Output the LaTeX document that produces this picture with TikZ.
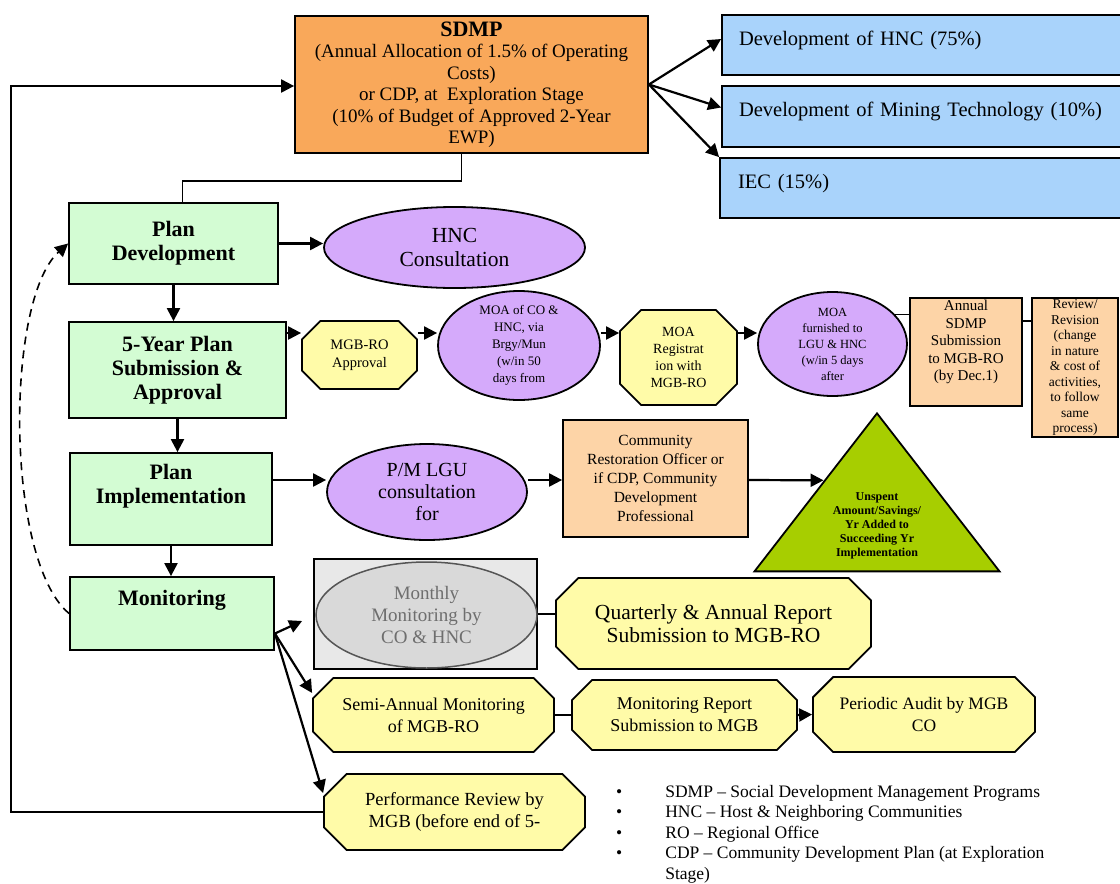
\documentclass[tikz,border=0pt]{standalone}
\usepackage{fontspec}
\setmainfont{Liberation Serif}
\usetikzlibrary{arrows.meta, calc, shapes.geometric, shapes.misc}
\definecolor{sdmporange}{HTML}{F9A85A}
\definecolor{sharesblue}{HTML}{A9D3FB}
\definecolor{plangreen}{HTML}{D3FCD3}
\definecolor{lilac}{HTML}{D5AAFB}
\definecolor{octyellow}{HTML}{FFFBA8}
\definecolor{peach}{HTML}{FDD4A7}
\definecolor{leafgreen}{HTML}{A7CE00}
\definecolor{panelgray}{HTML}{E8E8E8}
\definecolor{ovalgray}{HTML}{D9D9D9}
\definecolor{ovaledge}{HTML}{555555}
\definecolor{ovaltext}{HTML}{6E6E6E}

\begin{document}
\begin{tikzpicture}[x=1pt, y=-1pt,
    >={Triangle[length=13pt, width=13pt]},
    font=\fontsize{18}{22}\selectfont,
    conn/.style={line width=2.2pt},
    box/.style={draw, line width=1.8pt, rectangle, inner sep=0pt, align=center},
    sdmpbox/.style={box, fill=sdmporange, font=\fontsize{19}{21.5}\selectfont},
    sharebox/.style={box, fill=sharesblue, text width=374pt, align=left, text depth=14pt, font=\fontsize{20.5}{23}\selectfont},
    stagebox/.style={box, fill=plangreen, font=\fontsize{22}{24}\selectfont\bfseries},
    officebox/.style={box, fill=peach},
    oval/.style={draw, line width=1.8pt, ellipse, fill=lilac, inner sep=0pt, align=center},
    octa/.style={draw, line width=1.8pt, chamfered rectangle, chamfered rectangle xsep=#1, fill=octyellow, inner sep=0pt, align=center},
    octa/.default=20pt
]
\useasboundingbox (0,0) rectangle (1120,884);

% SDMP and the three shares
\node[sdmpbox, minimum width=353pt, minimum height=137pt] (sdmp) at (471.5,84.5) {{\fontsize{22}{26}\selectfont\bfseries SDMP}\\(Annual Allocation of 1.5\% of Operating\\Costs)\\or CDP, at\ \ Exploration Stage\\(10\% of Budget of Approved 2-Year\\EWP)};
\node[sharebox, minimum width=408pt, minimum height=60pt] (hncshare) at (926,45) {Development of HNC (75\%)};
\node[sharebox, minimum width=408pt, minimum height=61pt] (techshare) at (926,116.5) {Development of Mining Technology (10\%)};
\node[sharebox, minimum width=410pt, minimum height=60pt] (iecshare) at (925,188) {IEC (15\%)};

% stages down the left side
\node[stagebox, minimum width=209pt, minimum height=81pt] (plandev) at (173.5,243.5) {Plan\\Development};
\node[stagebox, minimum width=217pt, minimum height=96pt] (fiveyr) at (177.5,370) {5-Year Plan\\Submission \&\\Approval};
\node[stagebox, minimum width=202pt, minimum height=92pt] (impl) at (171,499) {Plan\\Implementation\\\strut};
\node[stagebox, minimum width=204pt, minimum height=73pt] (mon) at (172,613.5) {Monitoring\\\strut};

% plan development
\node[oval, minimum width=261pt, minimum height=81pt, font=\fontsize{21.5}{24}\selectfont] (hnc) at (454.5,247.5) {HNC\\Consultation};

% submission and approval row
\coordinate (row2) at (0,333);
\node[octa=16pt, minimum width=115pt, minimum height=68pt, font=\fontsize{14.5}{18}\selectfont] (mgbro) at (359.5,355) {MGB-RO\\Approval};
\node[oval, minimum width=162pt, minimum height=109pt, inner ysep=-15pt, font=\fontsize{13}{17}\selectfont] (moaco) at (519,345.5) {MOA of CO \&\\HNC, via\\Brgy/Mun\\(w/in 50\\days from};
\node[octa=18pt, minimum width=117pt, minimum height=95pt, font=\fontsize{14}{17}\selectfont] (moareg) at (678.5,357.5) {MOA\\Registrat\\ion with\\MGB-RO};
\node[oval, minimum width=149pt, minimum height=104pt, inner ysep=-15pt, font=\fontsize{12.5}{16}\selectfont] (moafur) at (832.5,344) {MOA\\furnished to\\LGU \& HNC\\(w/in 5 days\\after};
\node[officebox, minimum width=112pt, minimum height=108pt, font=\fontsize{15}{17.5}\selectfont] (annual) at (966,352) {Annual\\SDMP\\Submission\\to MGB-RO\\(by Dec.1)\\\strut};
\node[officebox, minimum width=86pt, minimum height=139pt, font=\fontsize{13.5}{15.5}\selectfont] (review) at (1075,367.5) {Review/\\Revision\\(change\\in nature\\\& cost of\\activities,\\to follow\\same\\process)};

% implementation row
\coordinate (row3) at (0,480);
\node[oval, minimum width=200pt, minimum height=96pt, font=\fontsize{20}{22}\selectfont] (pmlgu) at (427,492) {P/M LGU\\consultation\\for};
\node[officebox, minimum width=185pt, minimum height=117pt, font=\fontsize{15.5}{19}\selectfont] (cro) at (655.5,478.5) {Community\\Restoration Officer or\\if CDP, Community\\Development\\Professional};
\node[draw, line width=1.8pt, fill=leafgreen, isosceles triangle, isosceles triangle stretches, shape border rotate=90, minimum width=245pt, minimum height=158pt, inner sep=0pt, anchor=apex] (unspent) at (877,411) {};
\node[align=center, font=\fontsize{12}{14}\selectfont\bfseries] (unspenttext) at (877,526) {Unspent\\Amount/Savings/\\Yr Added to\\Succeeding Yr\\Implementation};
\coordinate (unspentin) at ($(unspent.apex)!0.43!(unspent.left corner)$);

% monitoring rows
\node[box, fill=panelgray, minimum width=223pt, minimum height=110pt] (monbox) at (425.5,614) {};
\node[draw=ovaledge, line width=1.5pt, ellipse, fill=ovalgray, minimum width=221pt, minimum height=106pt, inner sep=0pt, align=center, text=ovaltext, font=\fontsize{19}{22}\selectfont] (monthly) at (426.5,615) {Monthly\\Monitoring by\\CO \& HNC};
\node[octa=25pt, minimum width=315pt, minimum height=91pt, font=\fontsize{21.5}{23.5}\selectfont] (quarterly) at (713.5,623.5) {Quarterly \& Annual Report\\Submission to MGB-RO};
\node[octa, minimum width=241pt, minimum height=74pt] (semi) at (433.5,715) {Semi-Annual Monitoring\\of MGB-RO};
\node[octa, minimum width=225pt, minimum height=70pt] (monrep) at (684.5,715) {Monitoring Report\\Submission to MGB};
\node[octa, minimum width=222pt, minimum height=75pt, font=\fontsize{17.5}{22}\selectfont] (periodic) at (924,714.5) {Periodic Audit by MGB\\CO};
\node[octa=25pt, minimum width=261pt, minimum height=76pt, font=\fontsize{18.5}{22}\selectfont] (perf) at (454.5,812) {Performance Review by\\MGB (before end of 5-};

% abbreviations
\node[anchor=base west, inner sep=0pt, font=\fontsize{17.5}{20.5}\selectfont] (legend) at (616,797) {\begin{tabular}[t]{@{}l@{\hspace{43pt}}l@{}}
\textbullet & SDMP – Social Development Management Programs\\
\textbullet & HNC – Host \& Neighboring Communities\\
\textbullet & RO – Regional Office\\
\textbullet & CDP – Community Development Plan (at Exploration\\
 & Stage)
\end{tabular}};

% connectors
\draw[conn, ->] (sdmp.east) -- ([yshift=6pt]hncshare.west);
\draw[conn, ->] (sdmp.east) -- ([yshift=9pt]techshare.west);
\draw[conn, ->] (sdmp.east) -- (iecshare.north west);
\draw[line width=1.5pt] ([xshift=-10pt]sdmp.south) -- ++(0,27) -| ([xshift=9pt]plandev.north);
\draw[conn, ->] (perf.west) -- ++(-312,0) |- ([yshift=-1.5pt]sdmp.west);

\draw[conn, ->] (plandev.south) -- (plandev.south |- fiveyr.north);
\draw[conn, ->] (fiveyr.south) -- (fiveyr.south |- impl.north);
\draw[conn, ->] (impl.south) -- (impl.south |- mon.north);
\draw[line width=1.6pt, dash pattern=on 8pt off 6pt, ->] (mon.west) .. controls (5,560) and (5,300) .. (plandev.west);

\draw[conn, ->] (plandev.east) -- (plandev.east -| hnc.west);

\draw[conn, ->] (fiveyr.east |- row2) -- (mgbro.west |- row2);
\draw[conn, ->] (mgbro.east |- row2) -- (moaco.west |- row2);
\draw[conn, ->] (moaco.east |- row2) -- (moareg.west |- row2);
\draw[conn, ->] (moareg.east |- row2) -- (moafur.west |- row2);
\draw[line width=1.5pt] (moafur.25) -- (moafur.25 -| annual.west);
\draw[line width=1.5pt] ([yshift=31pt]annual.east) -- ([yshift=31pt]annual.east -| review.west);

\draw[conn, ->] (impl.east |- row3) -- (pmlgu.west |- row3);
\draw[conn, ->] (pmlgu.east |- row3) -- (cro.west |- row3);
\draw[conn, ->] (cro.east |- row3) -- (unspentin);

\coordinate (fan) at ([yshift=-20pt]mon.east);
\draw[conn, ->] (fan) -- ([xshift=-11pt, yshift=-7pt]monbox.west);
\draw[conn, ->] (fan) -- ([yshift=22pt]semi.west);
\draw[conn, ->] (fan) -- ([yshift=19pt]perf.west);
\draw[line width=1.5pt] (monbox.east) -- (monbox.east -| quarterly.west);
\draw[line width=1.5pt] (semi.east) -- (monrep.west);
\draw[conn, ->] (monrep.east) -- (periodic.west);

\end{tikzpicture}
\end{document}
